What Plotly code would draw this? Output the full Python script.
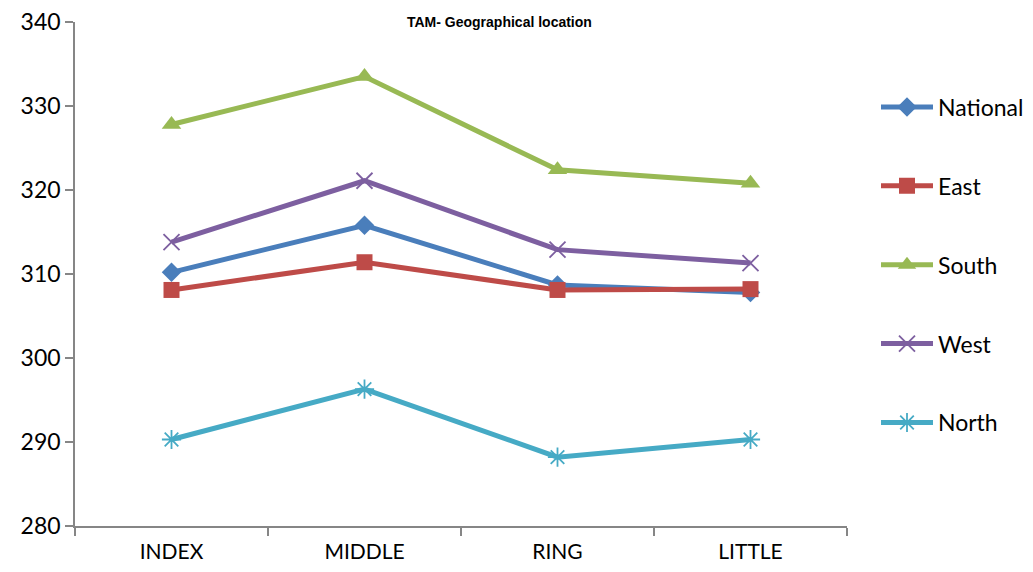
import plotly.graph_objects as go

categories = ["INDEX", "MIDDLE", "RING", "LITTLE"]
national = [310.2, 315.8, 308.7, 307.8]
east = [308.1, 311.4, 308.1, 308.2]
south = [327.8, 333.5, 322.4, 320.8]
west = [313.8, 321.1, 312.9, 311.3]
north = [290.3, 296.3, 288.2, 290.3]
y_ticks = [280, 290, 300, 310, 320, 330, 340]

series = [
    ("National", national, "#4A7EBB", "diamond", 15, 0),
    ("East", east, "#BE4B48", "square", 16, 0),
    ("South", south, "#98B954", "triangle-up", 17, 0),
    ("West", west, "#7D5FA0", "x-thin-open", 16, 1.8),
    ("North", north, "#46AAC5", "asterisk-open", 16, 1.8),
]

fig = go.Figure()
for i, (name, vals, color, sym, size, lw) in enumerate(series):
    marker = dict(symbol=sym, size=size, color=color)
    if lw:
        marker["line"] = dict(color=color, width=lw)
    fig.add_trace(go.Scatter(
        x=categories, y=vals, name=name, mode="lines+markers",
        line=dict(color=color, width=5), marker=marker,
        legendgroup=name,
    ))

W, H = 1033, 572
L, R, T, B = 75, 186, 22, 46
fig.update_layout(
    width=W, height=H,
    margin=dict(l=L, r=R, t=T, b=B, autoexpand=False),
    paper_bgcolor="white", plot_bgcolor="white",
    font=dict(family="Lato, Open Sans, sans-serif", color="black"),
    showlegend=True,
    legend=dict(
        x=(876 - L) / (W - L - R), xanchor="left", y=0.518, yanchor="middle",
        font=dict(size=23, family="Lato, sans-serif"),
        traceorder="grouped", tracegroupgap=46,
        itemwidth=52,
    ),
    annotations=[dict(
        text="<b>TAM- Geographical location</b>",
        x=(500 - L) / (W - L - R), y=1.0,
        xref="paper", yref="paper", showarrow=False,
        yanchor="middle", xanchor="center",
        font=dict(family="Liberation Sans, Arial", size=14, color="black"),
    )],
)
fig.update_xaxes(
    range=[-0.5, 3.5], showline=True, linecolor="#868686", linewidth=1.5,
    ticks="outside", tickson="boundaries", ticklen=8, tickcolor="#868686",
    tickwidth=1.5, showgrid=False, zeroline=False, ticklabelstandoff=6,
    automargin=False, ticklabeloverflow="allow",
    tickfont=dict(size=21, family="Lato, sans-serif"),
)
fig.update_yaxes(
    range=[280, 340], tickvals=y_ticks, showline=True, linecolor="#868686",
    linewidth=1.5, ticks="outside", ticklen=8, tickcolor="#868686", tickwidth=1.5,
    showgrid=False, zeroline=False, automargin=False, ticklabeloverflow="allow",
    tickfont=dict(size=23, family="Lato, sans-serif"),
)

fig.write_html(
    "out.html",
    config={"displayModeBar": False},
    post_script="document.body.style.margin='0';document.body.style.overflow='hidden';",
)
